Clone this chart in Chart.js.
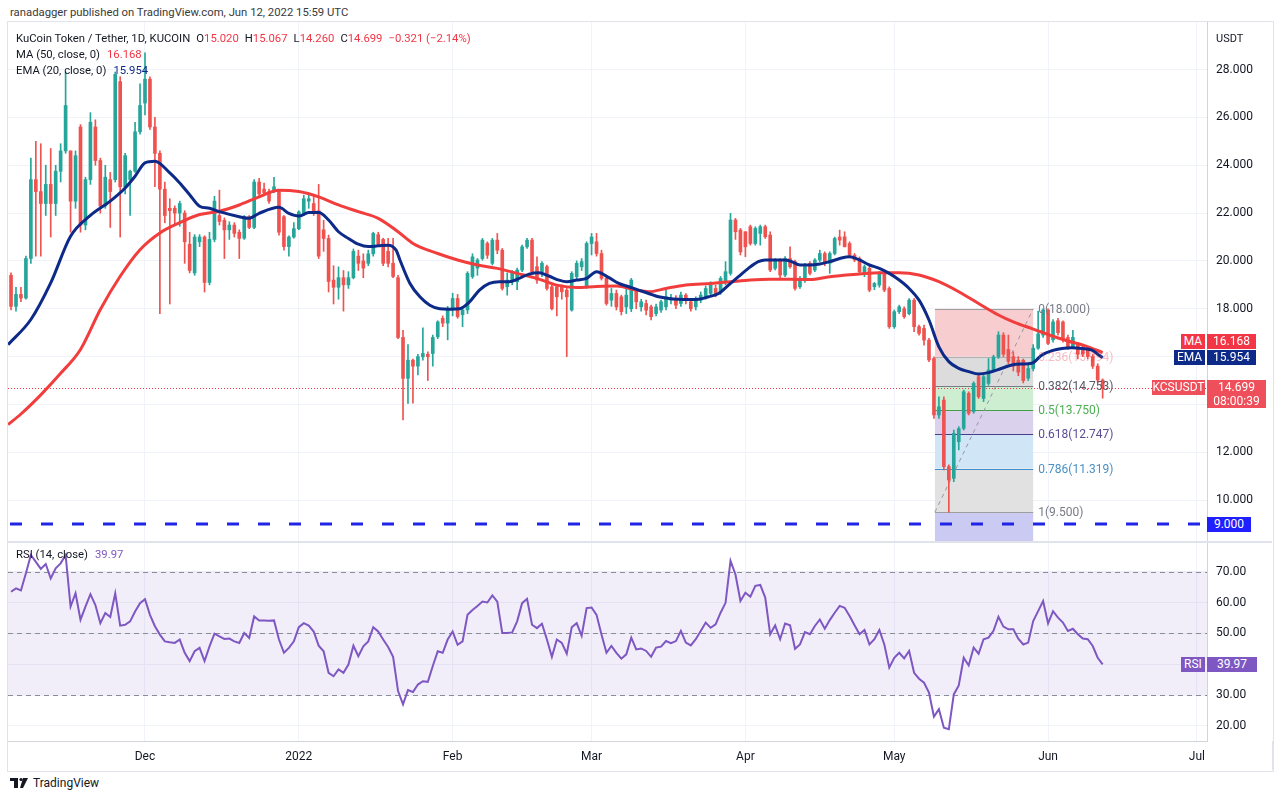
<!DOCTYPE html>
<html>
<head>
<meta charset="utf-8">
<script src="https://cdn.jsdelivr.net/npm/chart.js@4.4.0/dist/chart.umd.min.js"></script>
<style>
html,body{margin:0;padding:0;background:#fff;}
body{width:1280px;height:800px;position:relative;overflow:hidden;font-family:Roboto,"Liberation Sans",Arial,sans-serif;color:#131722;}
.abs{position:absolute;white-space:nowrap;}
canvas{position:absolute;}
.box{position:absolute;color:#fff;font-size:12px;text-align:center;line-height:15px;height:15px;}
.r{color:#f23645;}
</style>
</head>
<body>
<div class="abs" style="left:10px;top:6px;font-size:11.3px;color:#3a3a3a;">ranadagger published on TradingView.com, Jun 12, 2022 15:59 UTC</div>
<div style="position:absolute;left:7px;top:21px;width:1265px;height:749px;border:1px solid #e0e3eb;"></div>
<canvas id="main" width="1264" height="519" style="left:8px;top:22px;"></canvas>
<div style="position:absolute;left:8px;top:541px;width:1264px;height:2px;background:#e0e3eb;"></div>
<canvas id="rsi" width="1264" height="227" style="left:8px;top:543px;"></canvas>
<div style="position:absolute;left:1272px;top:741px;width:1px;height:29px;background:#e0e3eb;"></div>
<div id="overlay"></div>
<div class="abs" style="left:10px;top:776px;font-size:12px;color:#131722;display:flex;align-items:center;">
  <svg width="20" height="12" viewBox="0 0 20 12" style="margin-right:3px"><rect x="0" y="1" width="8" height="3" fill="#131722"/><rect x="4" y="1" width="4" height="10" fill="#131722"/><circle cx="11" cy="2.5" r="1.6" fill="#131722"/><polygon points="13,1 18,1 13,11 10,11" fill="#131722"/></svg>TradingView
</div>
<script>
// ---------- DATA ----------
const firstDay = 3; // day index (0 = 2021-11-01)
const opens = [
19.4,18.1,18.6,18.45,20.1,23.4,22.9,22.4,23.2,22.4,
23.75,24.6,24.6,22.5,25.6,21.5,23.4,25.6,24.2,22.3,
23.4,23.4,27.5,23.1,23.4,23.75,25.4,26.6,27.6,25.6,
24.5,23.0,22.2,22.2,22.0,22.0,20.7,19.5,20.8,21.0,
19.1,20.9,21.9,21.7,21.3,21.5,21.2,20.95,21.85,21.4,
23.3,23.0,22.9,22.9,22.9,21.85,20.6,21.0,21.35,22.0,
22.5,22.4,22.1,21.3,20.94,19.2,18.9,19.3,19.0,19.3,
20.2,20.0,19.9,20.3,21.1,20.9,20.4,19.9,19.3,16.8,
15.09,15.85,15.6,15.99,16.1,16.13,16.83,17.6,17.4,17.95,
18.43,17.75,17.95,19.34,19.7,20.1,20.73,19.9,20.87,20.45,
18.92,19.13,19.13,19.62,20.59,20.87,19.76,19.55,19.76,18.92,
18.92,18.92,18.78,17.95,19.34,19.76,18.92,20.73,20.8,20.31,
19.27,18.36,18.64,18.5,18.08,18.0,18.78,18.08,18.22,18.08,
17.8,17.95,18.08,18.36,18.43,18.22,18.57,18.29,18.08,18.36,
18.5,18.64,18.85,18.7,19.13,19.48,21.71,21.29,21.22,21.43,
20.73,21.15,21.43,21.08,19.69,20.04,19.41,20.1,19.97,18.92,
19.2,19.9,19.62,20.04,20.31,19.9,20.31,21.0,21.01,20.73,
20.24,20.1,19.48,19.69,18.92,18.99,19.48,18.85,17.25,17.88,
18.0,17.8,18.36,17.25,17.18,16.69,15.92,13.56,14.18,11.4,
10.91,12.44,13.0,14.46,13.7,15.16,14.25,14.88,15.44,15.99,
16.9,16.3,16.0,15.85,15.85,15.1,15.5,16.35,16.9,17.95,
16.7,17.5,17.45,16.8,16.4,16.5,16.4,16.3,16.0,15.6,
15.02];
const highs = [
19.5,18.9,18.9,20.2,24.3,25.0,24.9,24.0,24.7,24.0,
24.9,27.9,24.6,24.6,25.7,23.5,26.2,25.9,24.3,24.0,
23.7,27.9,27.7,24.5,23.8,25.8,27.4,28.7,27.7,26.0,
24.6,23.3,22.6,22.3,22.5,22.1,21.2,21.1,21.1,21.05,
21.2,22.7,22.96,21.8,21.64,21.6,21.3,21.9,21.9,23.4,
23.45,23.25,23.0,23.5,22.95,21.9,21.05,21.6,22.1,22.75,
22.8,22.7,23.2,21.7,21.08,19.8,19.75,19.6,19.55,20.5,
20.45,20.3,20.45,21.2,21.2,20.95,20.95,20.95,19.4,17.1,
16.5,15.9,16.1,17.2,16.2,16.9,17.5,17.7,18.1,18.65,
18.6,18.1,19.55,20.3,20.1,20.94,20.8,20.94,21.15,20.52,
19.5,19.6,19.7,20.66,20.94,20.94,20.17,19.97,19.83,18.99,
18.99,19.0,18.85,19.55,20.0,20.1,20.8,21.15,21.15,20.45,
19.41,18.85,18.78,18.57,18.85,19.27,18.8,18.4,18.36,18.15,
18.2,18.36,18.78,18.6,18.55,18.7,18.64,18.4,18.5,18.7,
18.95,19.13,18.99,19.35,19.97,21.99,21.78,21.36,21.22,21.5,
21.43,21.5,21.5,21.22,20.1,20.1,20.18,20.59,20.04,19.35,
19.9,19.97,20.1,20.45,20.38,20.38,21.0,21.29,21.22,20.8,
20.31,20.17,19.83,19.76,19.1,19.55,19.55,18.92,17.95,18.15,
18.08,18.43,18.43,17.32,17.32,16.76,15.99,14.32,14.32,11.47,
12.93,13.07,14.6,14.53,14.95,15.23,15.23,15.92,16.06,17.04,
17.0,16.9,16.2,16.0,15.9,15.7,16.5,17.9,18.0,18.0,
17.55,17.6,17.5,16.9,17.1,16.6,16.5,16.4,16.1,15.7,
15.067];
const lows = [
17.95,17.9,18.3,18.4,19.9,20.2,20.2,21.9,21.0,21.9,
23.3,24.5,21.2,22.2,21.2,21.3,23.2,24.0,22.0,22.2,
21.4,23.3,21.0,22.8,21.9,23.7,25.3,26.1,25.5,23.1,
17.8,21.6,18.2,21.5,21.45,19.9,19.5,19.4,20.6,18.7,
19.0,20.8,21.5,20.1,20.9,21.0,20.1,20.9,21.35,21.35,
22.7,22.75,22.4,22.85,21.08,20.45,20.2,20.95,21.3,21.9,
22.2,21.9,20.1,20.4,18.7,18.2,18.4,17.9,18.85,19.25,
19.6,19.3,19.8,20.2,20.6,19.8,19.75,19.3,16.75,13.35,
14.04,14.05,15.23,15.85,15.0,15.6,16.75,17.25,16.7,17.7,
17.6,17.25,17.8,19.27,19.4,20.03,20.1,19.83,20.3,18.78,
18.57,19.0,18.8,19.55,20.52,19.48,19.06,19.34,18.78,17.95,
17.7,18.4,16.0,17.9,19.2,19.6,18.85,20.25,20.2,19.2,
18.15,18.1,17.95,17.74,17.8,17.88,18.0,17.9,17.74,17.53,
17.7,17.85,17.95,18.2,18.0,18.1,18.2,17.9,17.95,18.25,
18.4,18.55,18.5,18.6,19.0,19.4,20.9,20.25,20.18,20.66,
20.66,20.66,20.94,19.55,19.62,19.3,19.34,19.7,18.78,18.85,
19.1,19.41,19.55,19.97,19.8,19.48,20.25,20.66,20.59,20.17,
19.97,19.48,19.34,18.71,18.8,18.9,18.71,17.18,17.18,17.8,
17.6,17.74,17.04,16.9,16.48,15.79,13.42,13.42,11.26,9.5,
10.77,12.1,12.93,13.56,13.63,14.25,14.12,14.8,15.37,15.92,
16.0,15.7,15.4,15.2,14.9,15.0,15.4,16.3,16.8,16.5,
16.6,16.9,16.6,16.3,16.35,15.9,16.0,15.9,15.5,14.9,
14.26];
const closes = [
18.1,18.6,18.45,20.1,23.4,22.9,22.4,23.2,22.4,23.75,
24.6,26.5,22.5,24.4,21.5,23.4,25.8,24.2,22.3,23.5,
22.9,27.8,23.1,24.4,23.75,25.4,26.5,27.6,25.6,24.5,
23.0,21.9,22.1,22.0,22.4,20.8,19.6,21.0,21.0,19.1,
20.9,22.5,21.65,21.3,21.5,21.15,20.94,21.85,21.4,23.3,
22.8,22.85,22.5,23.1,21.2,20.6,21.0,21.35,22.05,22.6,
22.6,22.0,20.2,20.94,19.14,18.9,19.3,19.0,19.3,20.4,
19.9,19.7,20.3,21.15,20.7,19.9,19.9,19.35,16.8,15.09,
15.85,15.6,16.0,16.13,16.0,16.8,17.45,17.4,17.95,18.43,
17.67,17.95,19.48,20.17,20.04,20.87,20.24,20.87,20.45,18.85,
19.2,19.48,19.62,20.59,20.87,19.55,19.2,19.9,18.85,18.0,
18.5,18.71,18.5,19.48,19.9,19.97,20.73,21.0,20.31,19.27,
18.22,18.64,18.08,17.88,18.57,19.2,18.29,18.29,17.94,17.67,
18.08,18.29,18.5,18.43,18.15,18.57,18.36,18.0,18.36,18.57,
18.85,18.99,18.64,19.27,19.55,21.71,21.22,20.38,20.59,20.73,
21.36,21.43,21.01,19.62,20.04,19.41,20.1,19.76,18.85,19.27,
19.76,19.48,20.04,20.31,19.9,20.31,20.94,20.87,20.59,20.24,
20.04,19.55,19.76,18.78,19.06,19.48,18.78,17.25,17.88,18.08,
17.67,18.36,17.25,16.97,16.69,15.86,13.56,13.9,11.4,10.84,
12.79,12.99,14.53,13.63,14.88,14.32,15.16,15.44,15.99,16.9,
16.1,15.8,15.6,15.35,15.0,15.5,16.35,16.95,17.95,16.55,
17.45,17.0,16.7,16.4,16.8,16.1,16.1,16.0,15.6,15.02,
14.699];
const rsiValues = [
63.5,64.6,63.9,69.5,75.4,73.2,70.9,72.5,67.8,71.1,
72.7,75.4,58.7,63.0,54.4,58.7,62.7,59.2,53.3,56.6,
55.3,63.0,52.5,52.8,53.9,57.1,59.8,61.1,56.0,52.3,
49.6,47.4,47.1,46.9,48.0,43.7,41.0,44.2,45.3,41.0,
45.8,49.9,49.0,48.2,48.3,47.4,46.9,50.1,48.5,55.5,
54.2,54.2,54.1,54.2,48.0,43.7,45.3,47.4,52.0,53.3,
52.5,50.6,46.0,44.2,37.2,36.1,38.3,37.2,39.9,46.0,
42.6,45.8,47.4,52.0,50.6,48.0,45.6,42.4,31.3,27.0,
31.6,31.0,33.4,34.5,34.3,39.4,44.2,43.7,48.0,50.6,
46.3,47.4,56.0,57.6,58.9,60.3,60.0,62.3,60.3,50.1,
50.1,50.3,53.9,59.8,61.2,52.8,51.7,53.1,48.0,42.4,
48.0,46.9,43.4,52.0,53.3,49.2,58.2,58.4,56.0,49.6,
43.7,45.9,43.7,41.8,43.2,48.6,44.8,45.1,44.3,42.4,
45.4,45.7,47.5,46.8,47.5,50.8,47.0,46.1,48.1,50.8,
53.5,51.8,52.9,56.7,59.9,73.5,69.1,60.5,63.2,61.9,
65.4,65.7,61.6,49.7,52.6,48.1,53.2,52.6,45.0,46.4,
50.4,49.7,52.4,54.5,51.5,54.3,56.7,58.9,58.3,55.6,
52.6,49.7,51.1,46.4,48.1,51.1,46.4,38.9,42.1,43.7,
41.9,44.3,37.2,35.3,34.0,30.8,23.0,25.4,19.4,18.9,
30.2,33.1,42.1,39.6,45.4,43.4,48.1,48.6,50.8,55.4,
52.2,51.3,51.3,48.3,46.4,47.0,54.0,57.2,60.5,53.2,
57.2,55.1,53.5,50.8,51.5,49.7,48.3,48.1,45.9,42.1,
39.97];
const maDays = [2.4,5,9,13,17,21,25,29,33,37,41,45,49,53,57,61,65,69,73,77,81,84,89,93,97,101,105,109,113,117,121,125,129,131.5,135,139,144,148,152,156,160,164,168,174,178,182,186,190,194,198,202,205,209,213,216,219.5,223];
const maValues = [13.16,13.6,14.4,15.3,16.3,17.97,19.36,20.47,21.17,21.6,21.94,22.08,22.34,22.68,22.96,22.9,22.68,22.34,22.06,21.78,21.22,20.73,20.31,20.04,19.83,19.69,19.48,19.27,18.99,18.89,18.93,18.95,18.78,18.71,18.85,18.99,19.06,19.13,19.2,19.23,19.23,19.22,19.34,19.45,19.51,19.51,19.41,19.13,18.71,18.22,17.74,17.45,17.15,16.85,16.65,16.45,16.168];
const emaDays = [2.4,7,11,15,19,23,26,28,30,32,35,37,39,41,43,45,49,51,53,57,59,61,63,65,67,69,71,73,75,77,79,80.6,81.4,83.4,85.4,87.4,89.4,91.4,93.4,95.4,97.4,99.4,101.4,103.4,105.4,107.4,109.4,111.4,113.4,115,117,119,121,123.5,125.5,127.5,129.5,131.5,133.5,135.6,137.6,139.6,141.6,143.6,145.6,147.6,149.6,151.6,153.6,155,157,159,160.3,162,164,166,168,170,172,174,176,178,180,182,184,186,188,190,192,194,196,198,200,202,204.7,206.7,208.7,210.7,212.8,214.8,216.8,218.8,220.8,222,223];
const emaValues = [16.5,17.55,19.08,21.03,21.9,22.5,23.05,23.54,24.1,24.17,23.68,23.26,22.77,22.29,22.2,22.06,21.85,21.78,21.99,22.24,21.99,21.88,22.02,22.02,21.71,21.22,20.94,20.7,20.6,20.63,20.66,20.45,20.03,19.06,18.5,18.15,18.0,17.98,18.0,18.29,18.78,19.06,19.13,19.13,19.27,19.45,19.51,19.37,19.2,19.13,19.2,19.27,19.55,19.3,19.06,18.92,18.78,18.64,18.5,18.43,18.4,18.39,18.4,18.5,18.64,18.99,19.34,19.69,19.97,20.04,20.04,20.04,19.97,19.83,19.83,19.87,19.97,20.1,20.18,20.04,19.83,19.69,19.48,19.2,18.85,18.36,17.53,16.41,15.79,15.51,15.37,15.27,15.33,15.46,15.65,15.69,15.72,16.06,16.25,16.34,16.37,16.34,16.27,16.1,15.954];
// Fibonacci retracement drawn on the chart
const fibStartDay = 189.2, fibEndDay = 209;
const fibRatios = ['0','0.236','0.382','0.5','0.618','0.786','1'];
const fibPrices = [18.000,15.994,14.753,13.750,12.747,11.319,9.500];
const supportLevel = 9.0;
// axes
const monthTickDays = [30,61,92,120,151,181,212,242];
const monthTickLabels = ['Dec','2022','Feb','Mar','Apr','May','Jun','Jul'];
const priceTicks = [10,12,14,16,18,20,22,24,26,28];
const rsiTicks = [20,30,40,50,60,70];
const rsiLevels = [30,50,70];

// ---------- STYLE ----------
const FONT = 'Roboto, "Liberation Sans", Arial, sans-serif';
const UP = '#26a69a', DOWN = '#ef5350';
const xMin = 2.39, xMax = 244.03;
const fibZoneColors = ['#f7cdd0','#dcdcdc','#cdeed1','#dad2ec','#d0e6f6','#e1e1e1','#cacaf2'];
const fibLineColors = ['#9e9e9e','#b0b0b0','#787b86','#43a047','#4a3f8a','#3d8fd1','#9e9e9e'];
const fibLabelColors = ['#787b86','rgba(242,54,69,0.35)','#555a66','#4caf50','#5a4e96','#4a90c4','#787b86'];
Chart.defaults.font.family = FONT;

const days = closes.map((_, i) => firstDay + i);
const candleColors = days.map((_, i) => closes[i] >= opens[i] ? UP : DOWN);

function noPadY(s, w) { s.width = w; s.paddingTop = 0; s.paddingBottom = 0; }
function noPadX(s, h) { s.height = h; s.paddingLeft = 0; s.paddingRight = 0; }

const mainDecor = {
  id: 'mainDecor',
  beforeDatasetsDraw(chart) {
    const {ctx, chartArea: a, scales: {x, y}} = chart;
    ctx.save();
    ctx.beginPath(); ctx.rect(a.left, a.top, a.width, a.height); ctx.clip();
    const x0 = x.getPixelForValue(fibStartDay), x1 = x.getPixelForValue(fibEndDay);
    for (let i = 0; i < fibPrices.length; i++) {
      const top = y.getPixelForValue(fibPrices[i]);
      const bot = i + 1 < fibPrices.length ? y.getPixelForValue(fibPrices[i + 1]) : a.bottom;
      ctx.fillStyle = fibZoneColors[i];
      ctx.fillRect(x0, top, x1 - x0, bot - top);
    }
    ctx.lineWidth = 1;
    fibPrices.forEach((p, i) => {
      const py = Math.round(y.getPixelForValue(p)) + 0.5;
      ctx.strokeStyle = fibLineColors[i];
      ctx.beginPath(); ctx.moveTo(x0, py); ctx.lineTo(x1, py); ctx.stroke();
    });
    const lp = Math.round(y.getPixelForValue(closes[closes.length - 1])) + 0.5;
    ctx.strokeStyle = '#f23645'; ctx.setLineDash([1, 2]);
    ctx.beginPath(); ctx.moveTo(a.left, lp); ctx.lineTo(a.right, lp); ctx.stroke();
    const sp = y.getPixelForValue(supportLevel);
    ctx.strokeStyle = '#1f24e6'; ctx.lineWidth = 3; ctx.setLineDash([12, 19]);
    ctx.beginPath(); ctx.moveTo(a.left + 2, sp); ctx.lineTo(a.right, sp); ctx.stroke();
    ctx.restore();
  }
};

const mainChart = new Chart(document.getElementById('main'), {
  type: 'bar',
  data: {
    datasets: [
      {type: 'line', label: 'EMA', data: emaDays.map((d, i) => ({x: d, y: emaValues[i]})), borderColor: '#0d2a88', borderWidth: 3, pointRadius: 0, cubicInterpolationMode: 'monotone', order: 0},
      {type: 'line', label: 'MA', data: maDays.map((d, i) => ({x: d, y: maValues[i]})), borderColor: '#f23d3d', borderWidth: 3, pointRadius: 0, cubicInterpolationMode: 'monotone', order: 0},
      {type: 'bar', label: 'body', data: days.map((d, i) => ({x: d, y: [opens[i], closes[i]]})), backgroundColor: candleColors, barThickness: 3, grouped: false, minBarLength: 1, order: 1},
      {type: 'bar', label: 'wick', data: days.map((d, i) => ({x: d, y: [lows[i], highs[i]]})), backgroundColor: candleColors, barThickness: 1, grouped: false, order: 2},
      {type: 'line', label: 'trend', data: [{x: fibStartDay, y: fibPrices[6]}, {x: fibEndDay, y: fibPrices[0]}], borderColor: '#9598a1', borderWidth: 1, borderDash: [4, 4], pointRadius: 0, order: 3}
    ]
  },
  options: {
    responsive: false, animation: false, events: [],
    layout: {padding: 0},
    plugins: {legend: {display: false}, tooltip: {enabled: false}},
    scales: {
      x: {type: 'linear', min: xMin, max: xMax, offset: false,
        grid: {color: '#f0f3fa', drawTicks: false, offset: false}, border: {display: false},
        ticks: {display: false},
        afterBuildTicks: s => { s.ticks = monthTickDays.map(v => ({value: v})); },
        afterFit: s => noPadX(s, 0)},
      y: {position: 'right', min: 8.29, max: 29.99,
        grid: {color: '#f0f3fa', drawTicks: false}, border: {display: true, color: '#d1d4dc'},
        ticks: {padding: 9, color: '#131722', font: {size: 12}, callback: v => v.toFixed(3)},
        afterBuildTicks: s => { s.ticks = priceTicks.map(v => ({value: v})); },
        afterFit: s => noPadY(s, 65)}
    }
  },
  plugins: [mainDecor]
});

const rsiDecor = {
  id: 'rsiDecor',
  beforeDatasetsDraw(chart) {
    const {ctx, chartArea: a, scales: {y}} = chart;
    ctx.save();
    const t = y.getPixelForValue(rsiLevels[2]), b = y.getPixelForValue(rsiLevels[0]);
    ctx.fillStyle = 'rgba(126,87,194,0.1)';
    ctx.fillRect(a.left, t, a.width, b - t);
    ctx.strokeStyle = '#8a8d96'; ctx.lineWidth = 1; ctx.setLineDash([5, 4]);
    rsiLevels.forEach(v => {
      const py = Math.round(y.getPixelForValue(v)) + 0.5;
      ctx.beginPath(); ctx.moveTo(a.left, py); ctx.lineTo(a.right, py); ctx.stroke();
    });
    ctx.restore();
  }
};

const rsiChart = new Chart(document.getElementById('rsi'), {
  type: 'line',
  data: {datasets: [{label: 'RSI', data: days.map((d, i) => ({x: d, y: rsiValues[i]})), borderColor: '#7e57c2', borderWidth: 2, pointRadius: 0, tension: 0}]},
  options: {
    responsive: false, animation: false, events: [],
    layout: {padding: 0},
    plugins: {legend: {display: false}, tooltip: {enabled: false}},
    scales: {
      x: {type: 'linear', min: xMin, max: xMax, offset: false,
        grid: {color: '#f0f3fa', drawTicks: false}, border: {display: true, color: '#d1d4dc'},
        ticks: {padding: 9, color: '#131722', font: {size: 12}, maxRotation: 0, autoSkip: false,
          callback: (v, i) => monthTickLabels[i]},
        afterBuildTicks: s => { s.ticks = monthTickDays.map(v => ({value: v})); },
        afterFit: s => noPadX(s, 29)},
      y: {position: 'right', min: 15.1, max: 79.3,
        grid: {color: '#f0f3fa', drawTicks: false}, border: {display: true, color: '#d1d4dc'},
        ticks: {padding: 9, color: '#131722', font: {size: 12}, callback: v => v.toFixed(2)},
        afterBuildTicks: s => { s.ticks = rsiTicks.map(v => ({value: v})); },
        afterFit: s => noPadY(s, 65)}
    }
  },
  plugins: [rsiDecor]
});

// ---------- TEXT OVERLAYS ----------
const ov = document.getElementById('overlay');
function addEl(html, style, cls) {
  const d = document.createElement('div');
  d.className = cls || 'abs';
  d.innerHTML = html;
  Object.assign(d.style, style);
  ov.appendChild(d);
  return d;
}
const yM = v => mainChart.scales.y.getPixelForValue(v) + 22;
const xM = v => mainChart.scales.x.getPixelForValue(v) + 8;
const yR = v => rsiChart.scales.y.getPixelForValue(v) + 543;
const n = closes.length;
const chg = closes[n - 1] - closes[n - 2];
const pct = chg / closes[n - 2] * 100;
const fmt = v => v.toFixed(3);
const minus = s => s.replace('-', '\u2212');
const LEG = {fontSize: '11.3px', lineHeight: '16px'};

addEl(`KuCoin Token / Tether, 1D, KUCOIN<span style="margin-left:6px">O</span><span class="r">${fmt(opens[n-1])}</span><span style="margin-left:6px">H</span><span class="r">${fmt(highs[n-1])}</span><span style="margin-left:6px">L</span><span class="r">${fmt(lows[n-1])}</span><span style="margin-left:6px">C</span><span class="r">${fmt(closes[n-1])}</span><span class="r" style="margin-left:6px">${minus(chg.toFixed(3))} (${minus(pct.toFixed(2))}%)</span>`,
  Object.assign({left: '16px', top: '31px'}, LEG));
addEl(`MA (50, close, 0)<span class="r" style="margin-left:7px">${maValues[maValues.length-1].toFixed(3)}</span>`, Object.assign({left: '16px', top: '47px'}, LEG));
addEl(`EMA (20, close, 0)<span style="margin-left:7px;color:#0d2a88">${emaValues[emaValues.length-1].toFixed(3)}</span>`, Object.assign({left: '16px', top: '63px'}, LEG));
addEl(`RSI (14, close)<span style="margin-left:7px;color:#7e57c2">${rsiValues[n-1].toFixed(2)}</span>`, Object.assign({left: '16px', top: '547px'}, LEG));
addEl('USDT', {left: '1216px', top: '31px', fontSize: '11px', lineHeight: '16px'});

const fibLabelLeft = xM(fibEndDay) + 5;
fibPrices.forEach((p, i) => {
  addEl(`${fibRatios[i]}(${p.toFixed(3)})`, {left: fibLabelLeft + 'px', top: (yM(p) - 8) + 'px', fontSize: '12px', lineHeight: '16px', color: fibLabelColors[i]});
});

const emaTop = yM(emaValues[emaValues.length - 1]) - 7.5;
const maTop = emaTop - 16;
addEl('MA', {left: '1181px', top: maTop + 'px', width: '24px', background: '#f23645'}, 'box');
addEl(maValues[maValues.length - 1].toFixed(3), {left: '1207px', top: maTop + 'px', width: '49px', background: '#f23645'}, 'box');
addEl('EMA', {left: '1174px', top: emaTop + 'px', width: '31px', background: '#0d2a88'}, 'box');
addEl(emaValues[emaValues.length - 1].toFixed(3), {left: '1207px', top: emaTop + 'px', width: '49px', background: '#0d2a88'}, 'box');
const lastTop = yM(closes[n - 1]) - 7.5;
addEl('KCSUSDT', {left: '1152px', top: lastTop + 'px', width: '53px', background: '#ef4f5a'}, 'box');
addEl(`${fmt(closes[n-1])}<br>08:00:39`, {left: '1207px', top: lastTop + 'px', width: '59px', height: '28px', lineHeight: '14px', background: '#ef4f5a'}, 'box');
addEl(supportLevel.toFixed(3), {left: '1207px', top: (yM(supportLevel) - 7.5) + 'px', width: '44px', background: '#1f1fff'}, 'box');
const rsiTop = yR(rsiValues[n - 1]) - 7.5;
addEl('RSI', {left: '1181px', top: rsiTop + 'px', width: '24px', background: '#7e57c2'}, 'box');
addEl(rsiValues[n - 1].toFixed(2), {left: '1207px', top: rsiTop + 'px', width: '50px', background: '#7e57c2'}, 'box');
</script>
</body>
</html>
